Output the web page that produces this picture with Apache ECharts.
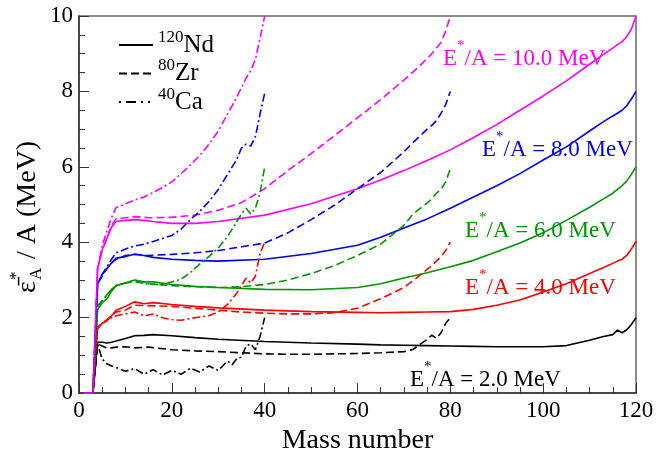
<!DOCTYPE html>
<html>
<head>
<meta charset="utf-8">
<script src="https://cdn.jsdelivr.net/npm/echarts@6/dist/echarts.min.js"></script>
<style>html,body{margin:0;padding:0;background:#fff;}#c{width:668px;height:460px;}</style>
</head>
<body>
<div id="c"></div>
<script>
// ---- data ----
const massNd = [1,2,3,4,5,6,7,8,10,12,14,16,20,25,30,40,50,60,65,70,75,80,85,90,95,100,105,110,113,115,116,117,118,119,120];
const nd2  = [0,0,0,1.35,1.35,1.33,1.35,1.38,1.45,1.52,1.53,1.55,1.52,1.47,1.43,1.37,1.33,1.30,1.28,1.27,1.26,1.25,1.24,1.23,1.23,1.23,1.26,1.40,1.50,1.55,1.67,1.60,1.68,1.82,2.00];
const nd4  = [0,0,0,1.70,1.85,1.92,2.05,2.20,2.30,2.42,2.37,2.40,2.35,2.30,2.26,2.20,2.16,2.14,2.13,2.14,2.15,2.16,2.22,2.33,2.47,2.68,2.90,3.17,3.33,3.44,3.50,3.55,3.65,3.82,4.02];
const nd6  = [0,0,0,2.20,2.40,2.50,2.70,2.85,2.92,3.00,2.95,2.95,2.88,2.83,2.80,2.75,2.74,2.80,2.90,3.05,3.19,3.35,3.52,3.75,3.98,4.25,4.58,4.93,5.15,5.30,5.40,5.50,5.62,5.80,6.00];
const nd8  = [0,0,0,2.90,3.15,3.30,3.45,3.58,3.62,3.68,3.65,3.60,3.55,3.52,3.50,3.55,3.70,3.92,4.13,4.38,4.62,4.90,5.20,5.50,5.82,6.18,6.53,6.95,7.20,7.35,7.42,7.50,7.62,7.80,8.00];
const nd10 = [0,0,0,3.30,3.80,4.10,4.40,4.55,4.58,4.60,4.58,4.55,4.50,4.50,4.55,4.72,5.02,5.42,5.65,5.90,6.17,6.45,6.78,7.12,7.50,7.88,8.28,8.72,8.98,9.15,9.24,9.32,9.45,9.65,10.00];

const massZr = [1,2,3,4,5,6,7,8,10,12,15,20,25,30,35,40,45,50,55,60,65,70,72,74,75,76,77,78,79,80];
const zr2  = [0,0,0,1.30,1.25,1.20,1.20,1.22,1.23,1.20,1.22,1.15,1.12,1.10,1.07,1.04,1.03,1.03,1.04,1.05,1.07,1.10,1.16,1.34,1.42,1.54,1.45,1.60,1.85,2.00];
const zr4  = [0,0,0,1.75,1.85,1.95,2.05,2.15,2.20,2.33,2.32,2.30,2.25,2.20,2.15,2.12,2.10,2.10,2.13,2.25,2.50,2.80,2.98,3.18,3.28,3.38,3.50,3.62,3.78,4.00];
const zr6  = [0,0,0,2.30,2.45,2.60,2.75,2.85,2.92,2.95,2.90,2.85,2.82,2.80,2.82,2.88,3.00,3.17,3.38,3.65,3.95,4.45,4.75,4.95,5.04,5.15,5.30,5.40,5.60,5.95];
const zr8  = [0,0,0,2.90,3.10,3.30,3.45,3.55,3.65,3.68,3.65,3.68,3.72,3.78,3.88,3.98,4.25,4.60,4.98,5.42,5.85,6.40,6.65,6.88,7.00,7.10,7.22,7.42,7.65,8.00];
const zr10 = [0,0,0,3.30,3.80,4.10,4.45,4.62,4.65,4.68,4.65,4.66,4.72,4.85,5.05,5.42,5.90,6.35,6.82,7.30,7.78,8.30,8.52,8.75,8.87,9.00,9.15,9.30,9.60,10.00];

const massCa = [1,2,3,4,5,6,7,8,10,12,14,16,18,20,22,24,26,28,30,32,33,34,35,36,37,38,39,40];
const ca2  = [0,0,0,1.30,0.90,0.78,0.72,0.68,0.58,0.65,0.50,0.62,0.48,0.60,0.50,0.66,0.56,0.72,0.60,0.85,0.75,0.92,0.95,1.25,1.30,1.15,1.50,2.00];
const ca4  = [0,0,0,1.75,1.85,1.92,2.00,2.05,2.10,2.15,2.05,2.10,2.00,1.95,1.93,1.98,2.02,2.05,2.15,2.35,2.50,2.65,2.85,3.05,2.92,3.10,3.70,4.00];
const ca6  = [0,0,0,2.30,2.45,2.60,2.75,2.85,2.92,3.00,2.90,2.88,2.88,2.95,3.02,3.20,3.42,3.62,3.85,4.15,4.35,4.55,4.75,4.90,4.75,4.90,5.30,6.00];
const ca8  = [0,0,0,2.90,3.15,3.35,3.55,3.72,3.82,3.90,3.95,4.02,4.10,4.18,4.35,4.60,4.82,5.08,5.40,5.80,6.00,6.20,6.50,6.60,6.55,6.80,7.40,7.95];
const ca10 = [0,0,0,3.30,3.90,4.30,4.65,4.92,5.02,5.12,5.20,5.32,5.45,5.60,5.82,6.05,6.30,6.60,6.95,7.40,7.62,7.85,8.10,8.35,8.55,8.85,9.40,10.00];

const energyLabels = ['E*/A = 2.0 MeV','E*/A = 4.0 MeV','E*/A = 6.0 MeV','E*/A = 8.0 MeV','E*/A = 10.0 MeV'];
const nucleusNames = ['120Nd','80Zr','40Ca'];
const xTicks = [0,20,40,60,80,100,120];
const yTicks = [0,2,4,6,8,10];

// ---- styling ----
const FONT = 'Liberation Serif';
const colors = ['#000000','#ff0000','#009600','#0000ff','#ff00ff'];
const dashTypes = ['solid',[8,4],[8,3,2,3]];
const legendDash = ['solid',[8,4],[2,5,10,5,2,5,2,5]];
const groups = [
  {x: massNd, ys: [nd2,nd4,nd6,nd8,nd10]},
  {x: massZr, ys: [zr2,zr4,zr6,zr8,zr10]},
  {x: massCa, ys: [ca2,ca4,ca6,ca8,ca10]}
];

const series = [];
groups.forEach((g, gi) => {
  g.ys.forEach((ys, ei) => {
    series.push({
      type: 'line', name: nucleusNames[gi] + '_' + ei, showSymbol: false, symbol: 'none',
      data: g.x.map((m, i) => [m, ys[i]]),
      lineStyle: {color: colors[ei], width: 1.6, type: dashTypes[gi]},
      itemStyle: {color: colors[ei]}, z: 2
    });
  });
});
// legend entries (black samples)
nucleusNames.forEach((n, gi) => {
  series.push({type: 'line', name: n, data: [], symbol: 'none', showSymbol: false,
    lineStyle: {color: '#000', width: 1.6, type: legendDash[gi]}, itemStyle: {color: '#000'}});
});

const labelPos = [[410,380],[465,288],[465,231],[482,150],[443,59]];
const graphics = energyLabels.map((t, i) => {
  const parts = t.split('*');
  return {
    type: 'text', left: labelPos[i][0], top: labelPos[i][1] - 20, z: 10,
    style: {
      text: '{m|' + parts[0] + '}{s|*}{m|' + parts[1] + '}',
      fill: colors[i],
      rich: {
        m: {fontSize: 23, fontFamily: FONT, lineHeight: 40, fill: colors[i]},
        s: {fontSize: 15, fontFamily: FONT, lineHeight: 14, verticalAlign: 'top', fill: colors[i]}
      }
    }
  };
});
// y-axis title
graphics.push({
  type: 'group', x: 28, y: 293, rotation: Math.PI / 2,
  children: [
    {type: 'text', x: 0, y: 0, style: {text: '\u03B5\u0304', fontSize: 28, fontFamily: FONT, fill: '#000', verticalAlign: 'middle', align: 'left'}},
    {type: 'text', x: 13, y: -11, style: {text: '*', fontSize: 17, fontFamily: FONT, fill: '#000', verticalAlign: 'middle', align: 'left'}},
    {type: 'text', x: 13, y: 9, style: {text: 'A', fontSize: 17, fontFamily: FONT, fill: '#000', verticalAlign: 'middle', align: 'left'}},
    {type: 'text', x: 27, y: 0, style: {text: ' / A (MeV)', fontSize: 28, fontFamily: FONT, fill: '#000', verticalAlign: 'middle', align: 'left'}}
  ]
});

const chart = echarts.init(document.getElementById('c'));
chart.setOption({
  animation: false,
  backgroundColor: '#fff',
  grid: {left: 79, right: 32, top: 16, bottom: 53, show: true, borderColor: '#666', borderWidth: 1.5, backgroundColor: 'transparent'},
  legend: {
    data: nucleusNames, orient: 'vertical', left: 113, top: 24, itemGap: 0,
    itemWidth: 34, itemHeight: 14,
    itemStyle: {opacity: 0},
    formatter: (n) => {
      const m = n.match(/^(\d+)(\D+)$/);
      return '{p|' + m[1] + '}{q|' + m[2] + '}';
    },
    textStyle: {
      rich: {
        p: {fontSize: 17, fontFamily: FONT, color: '#000', lineHeight: 12, verticalAlign: 'top', padding: [0,0,0,0]},
        q: {fontSize: 25, fontFamily: FONT, color: '#000', lineHeight: 32}
      }
    }
  },
  xAxis: {
    type: 'value', min: 0, max: 120, interval: 20,
    axisLine: {show: true, lineStyle: {color: '#333', width: 1.5}},
    axisTick: {show: true, inside: true, length: 10, lineStyle: {color: '#333', width: 1}},
    minorTick: {show: true, splitNumber: 4, length: 6, lineStyle: {color: '#333', width: 1}},
    splitLine: {show: false},
    axisLabel: {fontFamily: FONT, fontSize: 23, color: '#000', margin: 6,
      formatter: v => xTicks.includes(v) ? String(v) : ''},
    name: 'Mass number', nameLocation: 'middle', nameGap: 20,
    nameTextStyle: {fontFamily: FONT, fontSize: 28, color: '#000'}
  },
  yAxis: {
    type: 'value', min: 0, max: 10, interval: 2,
    axisLine: {show: true, lineStyle: {color: '#333', width: 1.5}},
    axisTick: {show: true, inside: true, length: 10, lineStyle: {color: '#333', width: 1}},
    minorTick: {show: true, splitNumber: 4, length: 6, lineStyle: {color: '#333', width: 1}},
    splitLine: {show: false},
    axisLabel: {fontFamily: FONT, fontSize: 23, color: '#000', margin: 6,
      formatter: v => yTicks.includes(v) ? String(v) : ''}
  },
  graphic: graphics,
  series: series
});
</script>
</body>
</html>
